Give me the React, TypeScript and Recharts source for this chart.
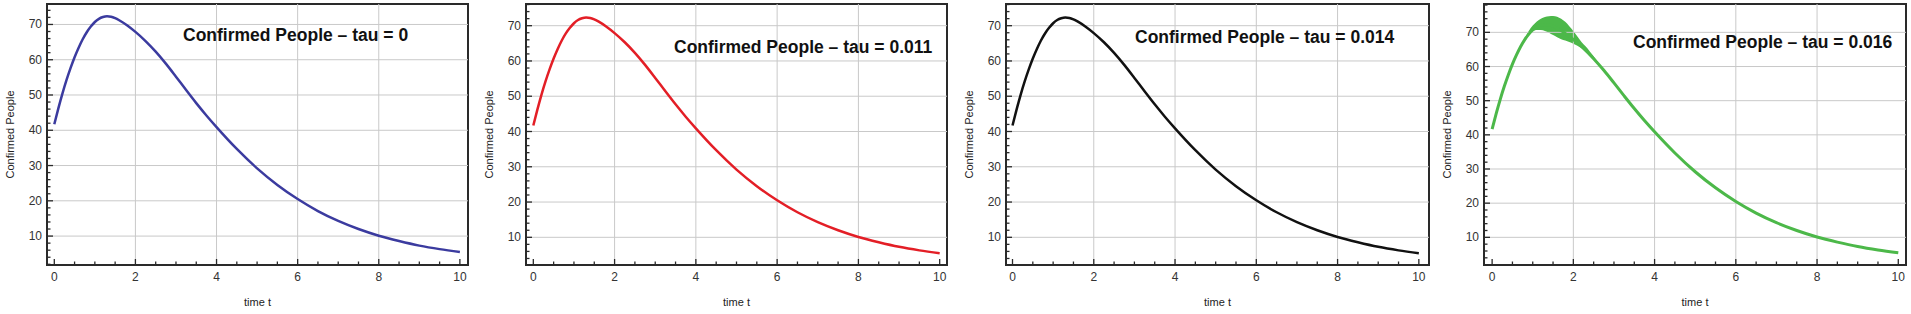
import { ComposedChart, Line, Area, XAxis, YAxis, ReferenceLine, ReferenceArea } from "recharts";

// time axis samples and confirmed-people values
const timeT = [
  0, 0.1, 0.2, 0.3, 0.4, 0.5, 0.6, 0.7, 0.8, 0.9, 1.0, 1.1, 1.2, 1.3, 1.4, 1.5, 1.6, 1.8, 2.0, 2.25,
  2.5, 2.75, 3.0, 3.25, 3.5, 3.75, 4.0, 4.5, 5.0, 5.5, 6.0, 6.5, 7.0, 7.5, 8.0, 8.5, 9.0, 9.5, 10,
];
const confirmedPeople = [
  41.7, 46.2, 50.4, 54.2, 57.6, 60.7, 63.4, 65.8, 67.8, 69.4, 70.7, 71.6, 72.1, 72.3, 72.2, 71.8, 71.2,
  69.7, 67.9, 65.3, 62.3, 58.9, 55.2, 51.4, 47.7, 44.2, 40.9, 34.7, 29.2, 24.5, 20.5, 17.1, 14.3, 12.0,
  10.1, 8.6, 7.3, 6.3, 5.5,
];

// oscillation envelope for tau = 0.016
const bandTime = [0.8, 0.9, 1.0, 1.1, 1.2, 1.3, 1.4, 1.5, 1.6, 1.7, 1.8, 1.9, 2.0, 2.1, 2.2, 2.3, 2.4, 2.5, 2.6];
const bandUpper = [68.2, 70.4, 72.0, 73.2, 74.0, 74.5, 74.7, 74.8, 74.6, 74.0, 73.1, 71.8, 70.4, 68.8, 67.2, 65.9, 64.5, 63.0, 61.4];
const bandLower = [67.8, 69.2, 70.3, 70.7, 70.7, 70.4, 69.9, 69.2, 68.6, 68.0, 67.6, 67.2, 66.7, 66.1, 65.4, 64.6, 63.6, 62.4, 61.0];

const xMajorTicks = [0, 2, 4, 6, 8, 10];
const xMinorTicks = [0.5, 1, 1.5, 2.5, 3, 3.5, 4.5, 5, 5.5, 6.5, 7, 7.5, 8.5, 9, 9.5];
const xGridLines = [2, 4, 6, 8];
const yMajorTicks = [10, 20, 30, 40, 50, 60, 70];
const yMinorTicks = [2, 4, 6, 8, 12, 14, 16, 18, 22, 24, 26, 28, 32, 34, 36, 38, 42, 44, 46, 48, 52, 54, 56, 58, 62, 64, 66, 68, 72, 74, 76, 78];

const FONT = '"Liberation Sans", Arial, sans-serif';
const FRAME = "#2a2a2a";
const GRID = "#c9c9c9";
const AXIS_W = 47;
const MAJOR_LEN = 6;
const MINOR_LEN = 3.5;
const TICK_W = 1.3;

type Panel = {
  tau: string;
  color: string;
  frameLeft: number;
  frameRight: number;
  xDomain: [number, number];
  yDomain: [number, number];
  titleX: number;
  titleY: number;
  band?: boolean;
};

const panels: Panel[] = [
  { tau: "0", color: "#3b3b9f", frameLeft: 47, frameRight: 468, xDomain: [-0.18, 10.2], yDomain: [1.8, 75.8], titleX: 183, titleY: 35 },
  { tau: "0.011", color: "#e31e26", frameLeft: 526, frameRight: 947, xDomain: [-0.18, 10.18], yDomain: [2.15, 76.15], titleX: 674, titleY: 47 },
  { tau: "0.014", color: "#111111", frameLeft: 1006, frameRight: 1429, xDomain: [-0.16, 10.25], yDomain: [2.15, 76.15], titleX: 1135, titleY: 37 },
  { tau: "0.016", color: "#4cb849", frameLeft: 1484, frameRight: 1906, xDomain: [-0.2, 10.19], yDomain: [1.9, 78.3], titleX: 1633, titleY: 42, band: true },
];

function buildRows(withBand: boolean) {
  const ts = withBand
    ? Array.from(new Set([...timeT, ...bandTime])).sort((a, b) => a - b)
    : timeT;
  return ts.map((t) => {
    const i = timeT.indexOf(t);
    const j = bandTime.indexOf(t);
    return {
      t,
      v: i >= 0 ? confirmedPeople[i] : null,
      band: withBand && j >= 0 ? [bandLower[j], bandUpper[j]] : null,
    };
  });
}

const inRange = (v: number, d: [number, number]) => v >= d[0] && v <= d[1];

// inward frame ticks; x/y arrive at the frame edge since tickSize/tickMargin are 0
const BottomTick = (p: any) => {
  const major = xMajorTicks.includes(p.payload.value);
  return (
    <g>
      <line x1={p.x} x2={p.x} y1={p.y} y2={p.y - (major ? MAJOR_LEN : MINOR_LEN)} stroke={FRAME} strokeWidth={TICK_W} />
      {major && (
        <text x={p.x} y={p.y + 12} textAnchor="middle" dominantBaseline="central" fontSize={12} fill="#333" fontFamily={FONT}>
          {p.payload.value}
        </text>
      )}
    </g>
  );
};

const TopTick = (p: any) => {
  const major = xMajorTicks.includes(p.payload.value);
  return <line x1={p.x} x2={p.x} y1={p.y} y2={p.y + (major ? MAJOR_LEN : MINOR_LEN)} stroke={FRAME} strokeWidth={TICK_W} />;
};

const LeftTick = (p: any) => {
  const major = yMajorTicks.includes(p.payload.value);
  return (
    <g>
      <line x1={p.x} x2={p.x + (major ? MAJOR_LEN : MINOR_LEN)} y1={p.y} y2={p.y} stroke={FRAME} strokeWidth={TICK_W} />
      {major && (
        <text x={p.x - 5} y={p.y} textAnchor="end" dominantBaseline="central" fontSize={12} fill="#333" fontFamily={FONT}>
          {p.payload.value}
        </text>
      )}
    </g>
  );
};

const RightTick = (p: any) => {
  const major = yMajorTicks.includes(p.payload.value);
  return <line x1={p.x} x2={p.x - (major ? MAJOR_LEN : MINOR_LEN)} y1={p.y} y2={p.y} stroke={FRAME} strokeWidth={TICK_W} />;
};

function PanelChart({ panel }: { panel: Panel }) {
  const rows = buildRows(!!panel.band);
  const xTicks = [...xMajorTicks, ...xMinorTicks].sort((a, b) => a - b).filter((v) => inRange(v, panel.xDomain));
  const yTicks = [...yMajorTicks, ...yMinorTicks].sort((a, b) => a - b).filter((v) => inRange(v, panel.yDomain));
  const width = AXIS_W + (panel.frameRight - panel.frameLeft) + 4;
  const axisLine = { stroke: FRAME, strokeWidth: 2 };

  return (
    <div style={{ position: "absolute", left: panel.frameLeft - AXIS_W, top: 0 }}>
      <ComposedChart width={width} height={314} data={rows} margin={{ top: 4, right: 4, bottom: 0, left: 0 }}>
        {xGridLines.map((v) => (
          <ReferenceLine key={`gx${v}`} x={v} stroke={GRID} strokeWidth={1} />
        ))}
        {yMajorTicks.map((v) => (
          <ReferenceLine key={`gy${v}`} y={v} stroke={GRID} strokeWidth={1} />
        ))}
        <XAxis
          dataKey="t"
          type="number"
          domain={panel.xDomain}
          allowDataOverflow
          ticks={xTicks}
          interval={0}
          height={49}
          tickSize={0}
          tickMargin={0}
          tickLine={false}
          axisLine={axisLine}
          tick={BottomTick}
          label={{ value: "time t", position: "insideBottom", offset: 8, fontSize: 11, fill: "#222", fontFamily: FONT }}
        />
        <XAxis
          xAxisId="top"
          orientation="top"
          dataKey="t"
          type="number"
          domain={panel.xDomain}
          allowDataOverflow
          ticks={xTicks}
          interval={0}
          height={0}
          tickSize={0}
          tickMargin={0}
          tickLine={false}
          axisLine={axisLine}
          tick={TopTick}
        />
        <YAxis
          type="number"
          domain={panel.yDomain}
          allowDataOverflow
          ticks={yTicks}
          interval={0}
          width={AXIS_W}
          tickSize={0}
          tickMargin={0}
          tickLine={false}
          axisLine={axisLine}
          tick={LeftTick}
          label={{
            value: "Confirmed People",
            angle: -90,
            position: "insideLeft",
            offset: 10,
            fontSize: 11,
            fill: "#222",
            fontFamily: FONT,
            style: { textAnchor: "middle" },
          }}
        />
        <YAxis
          yAxisId="right"
          orientation="right"
          type="number"
          domain={panel.yDomain}
          allowDataOverflow
          ticks={yTicks}
          interval={0}
          width={0}
          tickSize={0}
          tickMargin={0}
          tickLine={false}
          axisLine={axisLine}
          tick={RightTick}
        />
        {/* plot frame */}
        <ReferenceArea
          x1={panel.xDomain[0]}
          x2={panel.xDomain[1]}
          y1={panel.yDomain[0]}
          y2={panel.yDomain[1]}
          fill="none"
          fillOpacity={0}
          stroke={FRAME}
          strokeWidth={2}
          ifOverflow="visible"
        />
        {/* invisible series so the top/right frame axes have an item bound to them */}
        <Line
          xAxisId="top"
          yAxisId="right"
          dataKey="v"
          stroke="none"
          dot={false}
          activeDot={false}
          connectNulls
          isAnimationActive={false}
        />
        {panel.band && (
          <Area
            dataKey="band"
            type="monotone"
            stroke="none"
            fill={panel.color}
            fillOpacity={1}
            connectNulls
            isAnimationActive={false}
            dot={false}
            activeDot={false}
          />
        )}
        <Line
          dataKey="v"
          type="monotone"
          stroke={panel.color}
          strokeWidth={panel.band ? 3 : 2.5}
          dot={false}
          activeDot={false}
          connectNulls
          isAnimationActive={false}
        />
      </ComposedChart>
    </div>
  );
}

export default function App() {
  return (
    <div style={{ position: "absolute", left: 0, top: 0, width: 1911, height: 314, background: "#fff", overflow: "hidden" }}>
      {panels.map((p) => (
        <PanelChart key={p.tau} panel={p} />
      ))}
      {panels.map((p) => (
        <div
          key={`title-${p.tau}`}
          style={{
            position: "absolute",
            left: p.titleX,
            top: p.titleY - 10,
            fontFamily: FONT,
            fontWeight: "bold",
            fontSize: 17.5,
            lineHeight: "20px",
            color: "#111",
            whiteSpace: "nowrap",
          }}
        >
          Confirmed People – tau = {p.tau}
        </div>
      ))}
    </div>
  );
}
